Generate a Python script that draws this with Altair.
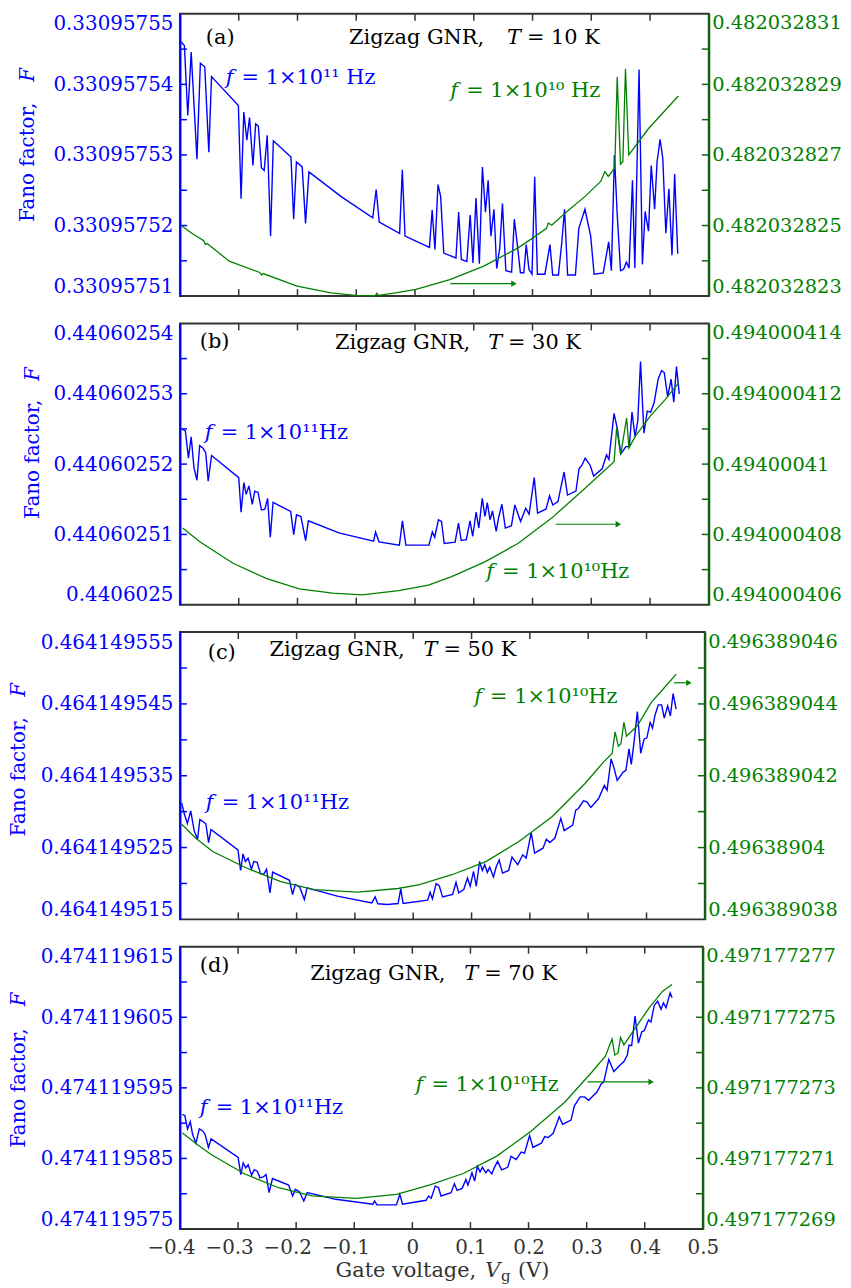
import altair as alt
import pandas as pd

FONT = "DejaVu Serif"
BLUE = "#0000ff"
GREEN = "#008000"
GREEN_AXIS = "#0b6b0b"
DARK = "#333333"
UNIT = 1e-9  # Fano factor values below are offsets (in 1e-9) above each panel's base value

X_DOMAIN = [-0.4, 0.5]
X_LABELS = [-0.4, -0.3, -0.2, -0.1, 0.0, 0.1, 0.2, 0.3, 0.4, 0.5]
X_INNER = [-0.3, -0.2, -0.1, 0.0, 0.1, 0.2, 0.3, 0.4]

# ---------------- panel (a), T = 10 K ----------------
A_BLUE_BASE = 0.3309575
A_GREEN_BASE = 0.48203282
A_BLUE_X = [-0.398, -0.3925, -0.3867, -0.3809, -0.3711, -0.3653, -0.3578, -0.3509, -0.3463, -0.3006,
            -0.296, -0.2914, -0.2862, -0.2816, -0.2758, -0.2712, -0.2666, -0.2614, -0.2567, -0.2515,
            -0.2458, -0.2411, -0.2111, -0.2065, -0.2018, -0.192, -0.1863, -0.1805, -0.1256, -0.0719,
            -0.0661, -0.0609, -0.0262, -0.0216, -0.017, 0.0246, 0.0292, 0.0339, 0.0391, 0.0437,
            0.0489, 0.0697, 0.0743, 0.0789, 0.0882, 0.0939, 0.0986, 0.1038, 0.1095, 0.1147,
            0.1199, 0.1245, 0.1292, 0.1344, 0.139, 0.1442, 0.1488, 0.1546, 0.1644, 0.169,
            0.1748, 0.1794, 0.1852, 0.1893, 0.1939, 0.1991, 0.2037, 0.2083, 0.221, 0.2297,
            0.2343, 0.2441, 0.2499, 0.2545, 0.2597, 0.273, 0.2788, 0.2892, 0.299, 0.3048,
            0.3204, 0.3296, 0.3342, 0.3394, 0.3441, 0.3498, 0.355, 0.3597, 0.3643, 0.3701,
            0.3741, 0.3813, 0.387, 0.3916, 0.3974, 0.402, 0.4078, 0.4119, 0.4171, 0.4217,
            0.4269, 0.4321, 0.4373, 0.4419, 0.4471]
A_BLUE_F = [46.0, 45.5, 35.6, 44.6, 29.4, 43.0, 42.5, 30.4, 41.1, 37.0,
            23.8, 36.1, 32.1, 35.3, 28.5, 34.4, 34.1, 28.2, 27.8, 32.8,
            18.5, 32.0, 29.7, 20.9, 29.0, 28.3, 20.3, 27.6, 24.1, 21.1,
            25.1, 20.5, 18.9, 27.9, 18.5, 16.9, 22.2, 16.6, 25.8, 24.1,
            16.1, 15.4, 21.9, 15.2, 14.9, 21.5, 14.7, 23.9, 14.6, 28.3,
            21.9, 26.4, 18.5, 22.3, 13.9, 16.8, 23.1, 13.6, 13.4, 20.9,
            16.8, 13.3, 13.3, 17.3, 13.8, 13.1, 26.9, 13.1, 13.1, 17.3,
            13.0, 13.0, 17.7, 22.3, 13.0, 13.0, 19.6, 22.3, 18.5, 13.1,
            13.3, 17.7, 13.6, 30.0, 21.6, 13.6, 13.8, 14.8, 14.0, 26.4,
            14.0, 42.1, 14.5, 22.0, 19.2, 28.5, 22.3, 29.0, 32.2, 29.5,
            18.9, 25.2, 15.8, 27.3, 16.0]
A_GREEN_X = [-0.398, -0.3798, -0.3596, -0.3567, -0.3538, -0.3162, -0.2643, -0.2614, -0.2585, -0.2007,
             -0.1429, -0.1013, -0.068, -0.0651, -0.062, -0.0331, 0.0015, 0.0593, 0.117, 0.1748,
             0.2006, 0.2239, 0.2268, 0.2326, 0.2568, 0.2904, 0.316, 0.3232, 0.3289, 0.34,
             0.3441, 0.3497, 0.3537, 0.3582, 0.3638, 0.3975, 0.4482]
A_GREEN_F = [5.0, 4.78, 4.57, 4.46, 4.49, 3.99, 3.67, 3.60, 3.64, 3.28,
             3.09, 3.02, 3.01, 3.08, 3.02, 3.09, 3.19, 3.47, 3.85, 4.36,
             4.65, 4.92, 5.07, 5.01, 5.37, 5.84, 6.25, 6.53, 6.39, 6.63,
             9.21, 6.74, 6.81, 9.44, 7.0, 7.75, 8.67]

# ---------------- panel (b), T = 30 K ----------------
B_BLUE_BASE = 0.4406025
B_GREEN_BASE = 0.4940004
B_BLUE_X = [-0.3965, -0.3908, -0.3856, -0.3809, -0.3763, -0.3711, -0.3665, -0.3607, -0.3561, -0.352,
            -0.3462, -0.3, -0.296, -0.2913, -0.2873, -0.2827, -0.2769, -0.2728, -0.2671, -0.2613,
            -0.2555, -0.2509, -0.2463, -0.2416, -0.2116, -0.2064, -0.2017, -0.1942, -0.1861, -0.1815,
            -0.1295, -0.0705, -0.0671, -0.0613, -0.0266, -0.0214, -0.0156, 0.0237, 0.0295, 0.0335,
            0.0399, 0.0451, 0.0497, 0.0682, 0.074, 0.0786, 0.0873, 0.0936, 0.0982, 0.104,
            0.1086, 0.1144, 0.119, 0.1231, 0.1277, 0.1318, 0.1381, 0.1427, 0.1479, 0.1537,
            0.1641, 0.1699, 0.1797, 0.1884, 0.1942, 0.2029, 0.2086, 0.2231, 0.2289, 0.2346,
            0.2433, 0.2537, 0.2595, 0.2739, 0.2792, 0.2838, 0.2896, 0.2982, 0.304, 0.3184,
            0.326, 0.33, 0.3387, 0.3445, 0.3502, 0.3589, 0.3647, 0.3693, 0.3745, 0.3791,
            0.3838, 0.3896, 0.3953, 0.4011, 0.4069, 0.4138, 0.4196, 0.4242, 0.43, 0.4358,
            0.4404, 0.445, 0.4497]
B_BLUE_F = [24.96, 24.73, 20.84, 23.89, 19.58, 17.70, 22.62, 22.25, 21.59, 17.56,
            21.22, 18.08, 13.16, 17.38, 15.69, 16.91, 14.29, 16.16, 15.97, 13.49,
            13.58, 15.13, 9.60, 14.57, 13.26, 9.98, 12.79, 12.55, 9.13, 11.94,
            10.21, 9.04, 10.35, 8.95, 8.48, 11.94, 8.48, 8.48, 10.35, 9.60,
            12.08, 11.85, 8.71, 8.90, 11.62, 9.13, 9.27, 11.94, 9.74, 13.16,
            10.91, 15.13, 12.55, 14.52, 12.08, 13.35, 10.44, 12.55, 14.29, 10.91,
            11.24, 14.19, 11.85, 13.72, 12.88, 18.08, 13.02, 13.63, 15.50, 14.19,
            14.66, 18.88, 15.60, 16.16, 19.34, 19.81, 20.84, 19.81, 18.31, 19.34,
            21.31, 20.66, 27.21, 24.96, 21.45, 22.48, 22.48, 27.40, 23.89, 26.14,
            34.57, 24.40, 27.54, 27.40, 28.71, 32.08, 33.30, 33.02, 29.56, 32.08,
            28.81, 33.86, 29.98]
B_GREEN_X = [-0.3954, -0.3662, -0.3098, -0.2533, -0.197, -0.1407, -0.09, -0.0278, 0.0229, 0.0624,
             0.1188, 0.1752, 0.2315, 0.288, 0.3388, 0.3432, 0.35, 0.3601, 0.3641, 0.3753,
             0.4007, 0.4261, 0.4487]
B_GREEN_F = [8.18, 7.79, 7.18, 6.75, 6.45, 6.33, 6.28, 6.40, 6.56, 6.80,
             7.22, 7.74, 8.45, 9.29, 10.07, 11.03, 10.27, 11.31, 10.46, 10.80,
             11.37, 11.84, 12.31]

# ---------------- panel (c), T = 50 K ----------------
C_BLUE_BASE = 0.4641495
C_GREEN_BASE = 0.49638903
C_BLUE_X = [-0.3971, -0.3931, -0.3873, -0.3815, -0.3757, -0.3699, -0.3659, -0.3601, -0.3555, -0.3509,
            -0.3468, -0.3006, -0.296, -0.2919, -0.2879, -0.2832, -0.2775, -0.2734, -0.2676, -0.2619,
            -0.2561, -0.2515, -0.2457, -0.2411, -0.2122, -0.2069, -0.2023, -0.1948, -0.1867, -0.1821,
            -0.1301, -0.0711, -0.0653, -0.0607, -0.0445, -0.026, -0.0214, -0.0174, 0.0248, 0.0289,
            0.0329, 0.0393, 0.0445, 0.0503, 0.0676, 0.0734, 0.078, 0.0867, 0.093, 0.0977,
            0.1034, 0.1081, 0.1138, 0.1185, 0.1225, 0.1271, 0.1312, 0.1375, 0.1422, 0.1474,
            0.1531, 0.1636, 0.1693, 0.1792, 0.1878, 0.1936, 0.2023, 0.2081, 0.2225, 0.2283,
            0.2341, 0.2427, 0.2531, 0.2589, 0.2734, 0.2786, 0.2832, 0.2919, 0.2977, 0.3046,
            0.3179, 0.3277, 0.3323, 0.3393, 0.3439, 0.3497, 0.3601, 0.3647, 0.3699, 0.3739,
            0.3786, 0.3843, 0.3901, 0.3959, 0.4005, 0.4062, 0.4103, 0.4143, 0.4201, 0.4259,
            0.4305, 0.4363, 0.4409, 0.4456, 0.4508]
C_BLUE_F = [31.22, 29.84, 28.36, 30.12, 27.35, 26.15, 28.92, 28.59, 28.27, 25.69,
            27.53, 24.68, 21.82, 24.12, 23.06, 23.53, 22.00, 23.06, 22.93, 21.36,
            21.31, 22.00, 18.69, 21.59, 20.44, 18.46, 19.84, 19.52, 17.76, 19.38,
            18.23, 17.30, 18.13, 17.17, 17.07, 17.21, 19.24, 17.21, 17.67, 18.78,
            17.86, 19.98, 19.70, 18.13, 18.46, 20.16, 18.69, 19.15, 20.76, 19.61,
            21.68, 19.61, 23.06, 21.82, 22.60, 21.54, 22.28, 20.90, 22.28, 23.29,
            21.45, 21.82, 23.66, 22.60, 23.99, 23.53, 27.07, 24.22, 24.91, 26.15,
            25.69, 26.29, 29.06, 27.35, 28.13, 30.21, 30.44, 31.50, 31.36, 30.58,
            31.82, 33.66, 32.97, 37.35, 36.20, 34.35, 35.51, 35.74, 38.73, 36.57,
            39.65, 43.94, 38.13, 40.12, 40.25, 42.42, 41.64, 43.34, 44.86, 44.86,
            43.02, 44.72, 43.34, 46.43, 44.26]
C_GREEN_X = [-0.3971, -0.3728, -0.3439, -0.2861, -0.2283, -0.1705, -0.0954, -0.026, 0.0108, 0.0676,
             0.1245, 0.1813, 0.238, 0.295, 0.3262, 0.341, 0.3461, 0.3517, 0.3561, 0.3612,
             0.3657, 0.3843, 0.4085, 0.4305, 0.451]
C_GREEN_F = [10.65, 10.26, 9.89, 9.43, 9.06, 8.83, 8.76, 8.86, 8.97, 9.25,
             9.61, 10.17, 10.86, 11.79, 12.38, 12.62, 13.22, 12.82, 12.89, 13.49,
             13.10, 13.39, 14.05, 14.45, 14.83]

# ---------------- panel (d), T = 70 K ----------------
D_BLUE_BASE = 0.4741195
D_GREEN_BASE = 0.49717726
D_BLUE_X = [-0.3957, -0.3916, -0.387, -0.3823, -0.3783, -0.3725, -0.3667, -0.3609, -0.3568, -0.351,
            -0.3464, -0.2999, -0.2953, -0.2912, -0.2866, -0.2826, -0.2767, -0.2721, -0.2669, -0.2623,
            -0.2565, -0.2518, -0.2466, -0.2408, -0.213, -0.206, -0.2014, -0.1944, -0.1869, -0.1811,
            -0.1318, -0.068, -0.0651, -0.061, -0.0274, -0.0216, -0.0169, 0.0237, 0.0278, 0.0324,
            0.0394, 0.0452, 0.0492, 0.0666, 0.0724, 0.077, 0.0858, 0.0921, 0.0956, 0.1026,
            0.1072, 0.1119, 0.1165, 0.1206, 0.1264, 0.1304, 0.1368, 0.1409, 0.1467, 0.1536,
            0.1641, 0.1699, 0.1786, 0.1873, 0.1931, 0.2018, 0.2076, 0.222, 0.2279, 0.2337,
            0.2424, 0.2528, 0.2586, 0.2731, 0.2789, 0.2888, 0.2963, 0.3033, 0.3178, 0.3253,
            0.3294, 0.3381, 0.3468, 0.3555, 0.3642, 0.37, 0.3729, 0.3775, 0.3833, 0.3891,
            0.3949, 0.399, 0.4065, 0.4106, 0.4164, 0.4222, 0.428, 0.4321, 0.4367, 0.4437,
            0.4472]
D_BLUE_F = [91.24, 91.05, 89.18, 90.21, 88.43, 87.17, 89.18, 88.90, 88.43, 86.56,
            87.78, 85.15, 82.72, 84.36, 83.66, 84.12, 82.63, 83.42, 83.19, 82.25,
            82.39, 82.72, 80.15, 82.16, 81.22, 79.68, 80.62, 80.29, 78.98, 80.15,
            79.21, 78.51, 78.98, 78.42, 78.42, 79.91, 78.51, 79.07, 79.68, 79.35,
            81.08, 80.85, 79.68, 80.15, 81.41, 80.47, 80.76, 82.02, 81.22, 82.96,
            81.79, 83.89, 83.10, 83.75, 82.96, 83.42, 82.81, 83.66, 84.59, 83.38,
            83.75, 85.29, 84.83, 85.90, 85.76, 88.24, 86.56, 87.17, 88.10, 87.96,
            88.57, 90.91, 89.83, 90.44, 92.45, 93.72, 93.72, 93.25, 94.42, 95.59,
            95.82, 99.01, 97.32, 98.07, 98.72, 99.66, 101.06, 100.97, 105.18, 101.35,
            102.94, 103.08, 104.62, 104.34, 106.68, 107.29, 106.12, 107.05, 106.35, 108.46,
            107.76]
D_GREEN_X = [-0.3957, -0.3696, -0.3464, -0.2884, -0.2304, -0.1724, -0.097, -0.0274, 0.0306, 0.0886,
             0.1467, 0.2047, 0.2627, 0.3091, 0.3323, 0.3393, 0.3438, 0.3484, 0.3542, 0.3583,
             0.3641, 0.3844, 0.4076, 0.4308, 0.4471]
D_GREEN_F = [11.72, 11.39, 11.11, 10.56, 10.17, 9.94, 9.87, 9.98, 10.25, 10.58,
             11.08, 11.78, 12.60, 13.45, 13.90, 14.20, 14.38, 13.93, 13.99, 14.43,
             14.22, 14.71, 15.27, 15.74, 15.93]

SUP11 = "\u00b9\u00b9"
SUP10 = "\u00b9\u2070"
TS = 21  # annotation font size

PANELS = [
    dict(w=532, h=284, bx=A_BLUE_X, bf=A_BLUE_F, bbase=A_BLUE_BASE, blo=10, bhi=50,
         gx=A_GREEN_X, gf=A_GREEN_F, gbase=A_GREEN_BASE, glo=3, ghi=11,
         texts=[("(a)", 26, 24.5, "black", TS, False, "left", None),
                ("Zigzag GNR,", 306, 24.5, "black", TS, False, "right", None),
                ("T", 329, 24.5, "black", TS, True, "left", None),
                ("= 10 K", 349, 24.5, "black", TS, False, "left", None),
                ("f", 46, 64.5, BLUE, TS, True, "left", None),
                ("= 1\u00d710" + SUP11 + " Hz", 62, 64.5, BLUE, TS, False, "left", None),
                ("f", 272, 77.5, GREEN, TS, True, "left", None),
                ("= 1\u00d710" + SUP10 + " Hz", 288, 77.5, GREEN, TS, False, "left", None),
                ("Fano factor,", -152.5, 89.5, BLUE, 20, False, "right", 270),
                ("F", -152.5, 61.5, BLUE, 20, True, "center", 270)],
         arrow=(272, 339, 271.5)),
    dict(w=532, h=283, bx=B_BLUE_X, bf=B_BLUE_F, bbase=B_BLUE_BASE, blo=0, bhi=40,
         gx=B_GREEN_X, gf=B_GREEN_F, gbase=B_GREEN_BASE, glo=6, ghi=14,
         texts=[("(b)", 20, 19, "black", TS, False, "left", None),
                ("Zigzag GNR,", 292, 20, "black", TS, False, "right", None),
                ("T", 310, 20, "black", TS, True, "left", None),
                ("= 30 K", 330, 20, "black", TS, False, "left", None),
                ("f", 25, 110, BLUE, TS, True, "left", None),
                ("= 1\u00d710" + SUP11 + "Hz", 41, 110, BLUE, TS, False, "left", None),
                ("f", 308, 250, GREEN, TS, True, "left", None),
                ("= 1\u00d710" + SUP10 + "Hz", 324, 250, GREEN, TS, False, "left", None),
                ("Fano factor,", -147.5, 76.7, BLUE, 20, False, "right", 270),
                ("F", -147.5, 51, BLUE, 20, True, "center", 270)],
         arrow=(378, 444, 202)),
    dict(w=528, h=289, bx=C_BLUE_X, bf=C_BLUE_F, bbase=C_BLUE_BASE, blo=15, bhi=55,
         gx=C_GREEN_X, gf=C_GREEN_F, gbase=C_GREEN_BASE, glo=8, ghi=16,
         texts=[("(c)", 28, 21, "black", TS, False, "left", None),
                ("Zigzag GNR,", 226, 18, "black", TS, False, "right", None),
                ("T", 245, 18, "black", TS, True, "left", None),
                ("= 50 K", 265, 18, "black", TS, False, "left", None),
                ("f", 26, 172, BLUE, TS, True, "left", None),
                ("= 1\u00d710" + SUP11 + "Hz", 42, 172, BLUE, TS, False, "left", None),
                ("f", 296, 65, GREEN, TS, True, "left", None),
                ("= 1\u00d710" + SUP10 + "Hz", 312, 65, GREEN, TS, False, "left", None),
                ("Fano factor,", -162, 85.7, BLUE, 20, False, "right", 270),
                ("F", -162, 58, BLUE, 20, True, "center", 270)],
         arrow=(497, 515, 51)),
    dict(w=526, h=284, bx=D_BLUE_X, bf=D_BLUE_F, bbase=D_BLUE_BASE, blo=75, bhi=115,
         gx=D_GREEN_X, gf=D_GREEN_F, gbase=D_GREEN_BASE, glo=9, ghi=17,
         texts=[("(d)", 20, 19, "black", TS, False, "left", None),
                ("Zigzag GNR,", 267, 27, "black", TS, False, "right", None),
                ("T", 286, 27, "black", TS, True, "left", None),
                ("= 70 K", 306, 27, "black", TS, False, "left", None),
                ("f", 20, 162, BLUE, TS, True, "left", None),
                ("= 1\u00d710" + SUP11 + "Hz", 36, 162, BLUE, TS, False, "left", None),
                ("f", 237, 139, GREEN, TS, True, "left", None),
                ("= 1\u00d710" + SUP10 + "Hz", 253, 139, GREEN, TS, False, "left", None),
                ("Fano factor,", -162, 82.3, BLUE, 20, False, "right", 270),
                ("F", -162, 53, BLUE, 20, True, "center", 270),
                ("Gate voltage,", 298, 326, DARK, TS, False, "right", None),
                ("V", 307, 326, DARK, TS, True, "left", None),
                ("g", 323, 331, DARK, 15, False, "left", None),
                ("(V)", 340, 326, DARK, TS, False, "left", None)],
         arrow=(410, 477, 136)),
]

DUMMY = pd.DataFrame({"d": [0]})


def text_layer(s, x, y, color, size, italic, align, angle):
    kw = dict(text=s, font=FONT, fontSize=size, color=color, align=align, baseline="middle")
    if italic:
        kw["fontStyle"] = "italic"
    if angle is not None:
        kw["angle"] = angle
    return alt.Chart(DUMMY).mark_text(**kw).encode(x=alt.value(x), y=alt.value(y))


def arrow_layers(x1, x2, y):
    shaft = alt.Chart(DUMMY).mark_rule(color=GREEN, strokeWidth=1.2).encode(
        x=alt.value(x1), x2=alt.value(x2 - 4), y=alt.value(y))
    head = alt.Chart(DUMMY).mark_point(shape="triangle-right", size=40, filled=True,
                                       color=GREEN, opacity=1).encode(
        x=alt.value(x2 - 3), y=alt.value(y))
    return [shaft, head]


def y_encoding(base, lo, hi, label_color, axis_color, orient, size, pad):
    dom = [base + lo * UNIT, base + hi * UNIT]
    step = (hi - lo) / 4
    vals = [base + (lo + k * step) * UNIT for k in range(5)]
    return alt.Y("F:Q", scale=alt.Scale(domain=dom, nice=False, zero=False),
                 axis=alt.Axis(orient=orient, values=vals, format=".9~f", labelFont=FONT,
                               labelFontSize=size, labelColor=label_color, labelPadding=pad,
                               labelFlush=True, labelOverlap=False, ticks=False,
                               domainColor=axis_color, domainWidth=2, grid=False, title=None))


def minor_ticks(base, lo, hi):
    step = (hi - lo) / 8
    return pd.DataFrame({"F": [base + (lo + k * step) * UNIT for k in range(1, 8)]})


def make_panel(p, last):
    W, H = p["w"], p["h"]
    xscale = alt.Scale(domain=X_DOMAIN, nice=False, zero=False)
    if last:
        xaxis = alt.Axis(values=X_LABELS, format=".1~f", labelFont=FONT, labelFontSize=20,
                         labelColor=DARK, labelPadding=9, labelFlush=False, labelOverlap=False,
                         ticks=False, domain=False, grid=False, title=None,
                         labelOffset={"condition": {"test": "datum.value < 0", "value": -9}, "value": 0})
    else:
        xaxis = alt.Axis(labels=False, ticks=False, domain=False, grid=False, title=None)
    X = alt.X("x:Q", scale=xscale, axis=xaxis)

    yl = y_encoding(p["bbase"], p["blo"], p["bhi"], BLUE, BLUE, "left", 20, 7)
    yr = y_encoding(p["gbase"], p["glo"], p["ghi"], GREEN, GREEN_AXIS, "right", 19.5, 3)

    blue_df = pd.DataFrame({"x": p["bx"], "F": [p["bbase"] + v * UNIT for v in p["bf"]]})
    green_df = pd.DataFrame({"x": p["gx"], "F": [p["gbase"] + v * UNIT for v in p["gf"]]})
    xt_df = pd.DataFrame({"x": X_INNER})

    blue_line = alt.Chart(blue_df).mark_line(color=BLUE, strokeWidth=1.4).encode(x=X, y=yl)
    left_ticks = alt.Chart(minor_ticks(p["bbase"], p["blo"], p["bhi"])).mark_rule(
        color=BLUE, strokeWidth=1.5).encode(y=yl, x=alt.value(0), x2=alt.value(7))
    top_ticks = alt.Chart(xt_df).mark_rule(color=DARK, strokeWidth=1.5).encode(
        x=X, y=alt.value(0), y2=alt.value(7))
    bottom_ticks = alt.Chart(xt_df).mark_rule(color=DARK, strokeWidth=1.5).encode(
        x=X, y=alt.value(H - 7), y2=alt.value(H))
    texts = [text_layer(*t) for t in p["texts"]]
    arrows = arrow_layers(*p["arrow"])

    green_line = alt.Chart(green_df).mark_line(color=GREEN, strokeWidth=1.3).encode(x=X, y=yr)
    right_ticks = alt.Chart(minor_ticks(p["gbase"], p["glo"], p["ghi"])).mark_rule(
        color=GREEN_AXIS, strokeWidth=1.5).encode(y=yr, x=alt.value(W - 7), x2=alt.value(W))

    left = alt.layer(blue_line, left_ticks, top_ticks, bottom_ticks, *texts, *arrows)
    right = alt.layer(green_line, right_ticks)
    return alt.layer(left, right).resolve_scale(y="independent").properties(width=W, height=H)


panels = [make_panel(p, i == len(PANELS) - 1) for i, p in enumerate(PANELS)]

chart = alt.vconcat(*panels, spacing=27.5, bounds="flush").properties(
    padding={"left": 0, "right": 0, "top": 0, "bottom": 0}, background="white"
).configure_view(stroke=DARK, strokeWidth=2)

chart.save("out.html", embed_options={"renderer": "svg", "actions": False})
